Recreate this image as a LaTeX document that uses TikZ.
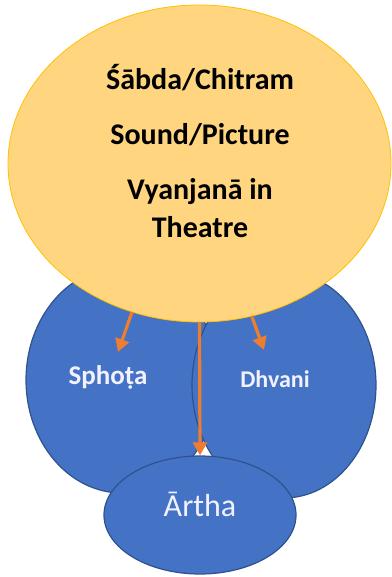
\documentclass[tikz,border=0pt]{standalone}
\usepackage{fontspec}
\setmainfont{Carlito}
\usetikzlibrary{shapes.geometric,arrows.meta}
\definecolor{blueF}{HTML}{4472C4}
\definecolor{blueD}{HTML}{2F528F}
\definecolor{yelF}{HTML}{FFD580}
\definecolor{yelD}{HTML}{FFC000}
\definecolor{arr}{HTML}{ED7D31}
\tikzset{
  blob/.style={ellipse, draw=blueD, fill=blueF, line width=1.2pt, inner sep=0pt},
  sun/.style={ellipse, draw=yelD, fill=yelF, line width=0.8pt, inner sep=0pt},
  ytxt/.style={anchor=base, font=\bfseries\fontsize{30}{34}\selectfont, text=black, inner sep=0pt},
  wtxt/.style={anchor=base, text=white!95!blue, inner sep=0pt},
  oarrow/.style={draw=arr, line width=3.2pt, -{Triangle[width=14pt,length=13pt]}}
}
\begin{document}
\begin{tikzpicture}[x=1pt,y=-1pt]
\useasboundingbox (0,0) rectangle (391,577);
\node[blob, minimum width=192pt, minimum height=226pt] (sph) at (122,380) {};
\node[blob, minimum width=184pt, minimum height=226pt] (dhv) at (284,385) {};
\node[blob, minimum width=192pt, minimum height=118pt] (art) at (200,515) {};
\node[sun, minimum width=383pt, minimum height=317pt] (yel) at (199.5,163.5) {};
\node[ytxt] (t1) at (200,90) {Śābda/Chitram};
\node[ytxt] (t2) at (200,145) {Sound/Picture};
\node[ytxt] (t3) at (200,200) {Vyanjanā in};
\node[ytxt] (t4) at (200,237) {Theatre};
\node[wtxt, font=\bfseries\fontsize{27}{30}\selectfont] (lsph) at (108,384) {Sphoṭa};
\node[wtxt, font=\bfseries\fontsize{24}{28}\selectfont] (ldhv) at (275,387) {Dhvani};
\node[wtxt, font=\fontsize{32}{36}\selectfont] (lart) at (200,516) {Ārtha};
\coordinate (s1) at (132,312);
\coordinate (e1) at (118,352);
\coordinate (s2) at (252,317);
\coordinate (e2) at (264,350);
\draw[oarrow] (s1) -- (e1);
\draw[oarrow] (s2) -- (e2);
\draw[oarrow] (yel.south) -- (art.north);
\end{tikzpicture}
\end{document}
